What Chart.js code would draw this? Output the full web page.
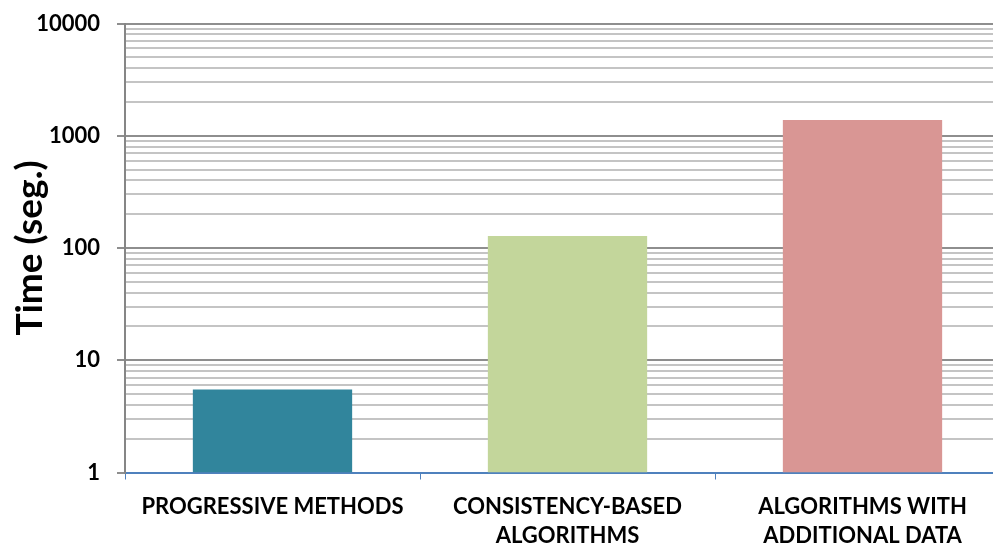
<!DOCTYPE html>
<html>
<head>
<meta charset="utf-8">
<script src="https://cdn.jsdelivr.net/npm/chart.js@4/dist/chart.umd.min.js"></script>
<style>
  html, body { margin: 0; padding: 0; background: #fff; overflow: hidden; }
  #wrap { width: 993px; height: 546px; overflow: hidden; }
</style>
</head>
<body>
<div id="wrap"><canvas id="timeChart" width="1010" height="546"></canvas></div>
<script>
const categories = [
    ['PROGRESSIVE METHODS'],
    ['CONSISTENCY-BASED', 'ALGORITHMS'],
    ['ALGORITHMS WITH', 'ADDITIONAL DATA']
];
const timeValues = [5.5, 128, 1380];
const barColors = ['#31859C', '#C3D69B', '#D99694'];
const yMajorTicks = [1, 10, 100, 1000, 10000];

const FONT = 'Lato, "Liberation Sans", sans-serif';

// minor grid lines at every multiple inside each decade
const yGridValues = [];
for (let i = 0; i < yMajorTicks.length - 1; i++) {
    for (let m = 1; m < 10; m++) yGridValues.push(yMajorTicks[i] * m);
}
yGridValues.push(yMajorTicks[yMajorTicks.length - 1]);

function isMajor(value) {
    return yMajorTicks.includes(value);
}

const ctx = document.getElementById('timeChart');

new Chart(ctx, {
    type: 'bar',
    data: {
        labels: categories,
        datasets: [{
            data: timeValues,
            backgroundColor: barColors,
            borderWidth: 0,
            barPercentage: 0.54,
            categoryPercentage: 1
        }]
    },
    options: {
        responsive: false,
        animation: false,
        layout: { padding: { top: 23.5, right: 0, left: 0, bottom: 0 } },
        plugins: {
            legend: { display: false },
            tooltip: { enabled: false }
        },
        scales: {
            x: {
                border: { color: '#4F81BD', width: 2 },
                grid: {
                    offset: true,
                    drawOnChartArea: false,
                    tickLength: 7,
                    color: '#4F81BD'
                },
                ticks: {
                    color: '#000',
                    font: { family: FONT, size: 22, weight: 'bold', lineHeight: 1.36 },
                    maxRotation: 0,
                    padding: 12
                },
                afterFit: (scale) => {
                    scale.height = 73.5;
                    scale.paddingLeft = 0;
                    scale.paddingRight = 0;
                }
            },
            y: {
                type: 'logarithmic',
                min: 1,
                max: 10000,
                border: { color: '#868686', width: 2 },
                grid: {
                    color: (c) => isMajor(c.tick.value) ? '#8E8E8E' : '#C4C4C4',
                    lineWidth: 2,
                    tickColor: (c) => isMajor(c.tick.value) ? '#8E8E8E' : 'rgba(0,0,0,0)',
                    tickLength: 8
                },
                afterBuildTicks: (scale) => {
                    scale.ticks = yGridValues.map((v) => ({ value: v }));
                },
                ticks: {
                    color: '#000',
                    autoSkip: false,
                    padding: 17,
                    font: { family: FONT, size: 22, weight: 'bold' },
                    callback: (value) => isMajor(value) ? String(value) : ''
                },
                title: {
                    display: true,
                    text: 'Time (seg.)',
                    color: '#000',
                    font: { family: FONT, size: 37, weight: 'bold' },
                    padding: { top: 8, bottom: 0 }
                },
                afterFit: (scale) => {
                    scale.width = 125;
                    scale.paddingTop = 0;
                    scale.paddingBottom = 0;
                }
            }
        }
    }
});
</script>
</body>
</html>
